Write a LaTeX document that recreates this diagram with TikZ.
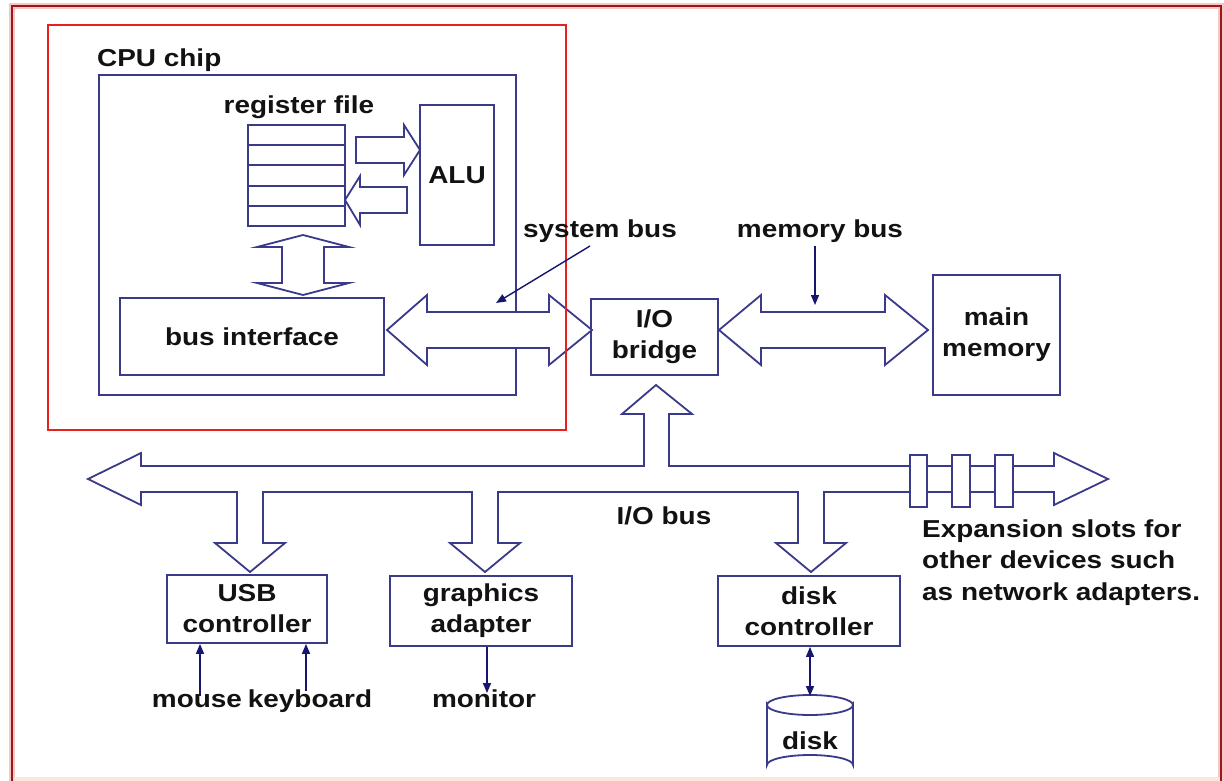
\documentclass[tikz,border=0pt]{standalone}
\usepackage{fontspec}
\newfontfamily\labfont{Liberation Sans Bold}[FakeStretch=1.14]
\usetikzlibrary{arrows.meta,calc}
\definecolor{linec}{RGB}{58,58,138}
\definecolor{tipc}{RGB}{22,22,110}
\definecolor{framec}{RGB}{160,22,22}
\definecolor{haloc}{RGB}{242,200,200}
\definecolor{hilite}{RGB}{232,32,32}
\definecolor{inkc}{RGB}{18,18,18}
\definecolor{peach}{RGB}{252,232,218}
\begin{document}
\begin{tikzpicture}[x=1pt,y=-1pt,
  txt/.style={inner sep=0pt, text=inkc, font=\labfont\fontsize{24.5}{31}\selectfont},
  box/.style={txt, draw=linec, line width=1.8pt, fill=white, align=center},
  blk/.style={draw=linec, line width=1.8pt, fill=white, line join=miter},
  ptr/.style={draw=tipc, line width=1.4pt, -{Triangle[length=10pt,width=8pt]}},
  dptr/.style={draw=tipc, line width=1.4pt, {Triangle[length=10pt,width=8pt]}-{Triangle[length=10pt,width=8pt]}}]
\useasboundingbox (0,0) rectangle (1224,781);
\clip (0,0) rectangle (1224,781);
\fill[white] (0,0) rectangle (1224,781);

% outer frame
\draw[haloc, line width=6pt] (12,6) rectangle (1221,800);
\draw[framec, line width=2.6pt] (12,6) rectangle (1221,800);
\fill[peach] (13.5,777) rectangle (1219.5,781);

% CPU chip
\node[box, fill=none, minimum width=417, minimum height=320] (cpu) at (307.5,235) {};
\node[txt, anchor=base west] (cpulbl) at (97,67) {CPU chip};

% register file
\node[txt, anchor=base] (reglbl) at (299,114) {register file};
\node[box, minimum width=97, minimum height=101] (regfile) at (296.5,175.5) {};
\foreach \k in {1,...,4}
  \draw[linec, line width=1.8pt]
    ($(regfile.north west)!\k/5!(regfile.south west)$) --
    ($(regfile.north east)!\k/5!(regfile.south east)$);

% ALU
\node[box, minimum width=74, minimum height=140] (alu) at (457,175) {ALU};

% register file <-> ALU
\draw[blk] (356,137) -- (404,137) -- (404,125) -- (420,150) -- (404,175)
  -- (404,163) -- (356,163) -- cycle;
\draw[blk] (407,187) -- (360,187) -- (360,176) -- (345,200) -- (360,225)
  -- (360,213) -- (407,213) -- cycle;

% bus interface
\node[box, minimum width=264, minimum height=77] (busif) at (252,336.5) {bus interface};

% register file <-> bus interface
\draw[blk] (303,235) -- (349,247) -- (324,247) -- (324,283) -- (349,283)
  -- (303,295) -- (257,283) -- (282,283) -- (282,247) -- (257,247) -- cycle;

% I/O bridge and main memory
\node[box, minimum width=127, minimum height=76] (bridge) at (654.5,337) {I/O\\bridge};
\node[box, minimum width=127, minimum height=120] (mem) at (996.5,335) {main\\memory};

% system bus
\draw[blk] (387,330) -- (427,295) -- (427,312) -- (549,312) -- (549,295)
  -- (592,330) -- (549,365) -- (549,348) -- (427,348) -- (427,365) -- cycle;

% memory bus
\draw[blk] (719,330) -- (761,295) -- (761,312) -- (885,312) -- (885,295)
  -- (928,330) -- (885,365) -- (885,348) -- (761,348) -- (761,365) -- cycle;

% highlight around the CPU
\draw[hilite, line width=2pt] (48,25) rectangle (566,430);

% bus labels with pointers
\node[txt, anchor=base] (sysbus) at (600,237) {system bus};
\node[txt, anchor=base] (membus) at (820,237) {memory bus};
\coordinate (sbtail) at (590,246);
\coordinate (sbtip) at (496,303);
\coordinate (mbtail) at (815,246);
\coordinate (mbtip) at (815,305);
\draw[ptr] (sbtail) -- (sbtip);
\draw[ptr] (mbtail) -- (mbtip);

% I/O devices
\node[box, minimum width=160, minimum height=68] (usb) at (247,609) {USB\\controller};
\node[box, minimum width=182, minimum height=70] (gfx) at (481,611) {graphics\\adapter};
\node[box, minimum width=182, minimum height=70] (dc) at (809,611) {disk\\controller};

% I/O bus with its branches
\draw[blk] (88,479) -- (141,453) -- (141,466) -- (644,466) -- (644,414)
  -- (622,414) -- (656,385) -- (692,414) -- (669,414) -- (669,466)
  -- (1054,466) -- (1054,453) -- (1108,479) -- (1054,505) -- (1054,492)
  -- (824,492) -- (824,543) -- (846,543) -- (811,572) -- (776,543) -- (798,543) -- (798,492)
  -- (498,492) -- (498,543) -- (520,543) -- (485,572) -- (450,543) -- (472,543) -- (472,492)
  -- (263,492) -- (263,543) -- (285,543) -- (250,572) -- (215,543) -- (237,543) -- (237,492)
  -- (141,492) -- (141,505) -- cycle;

% expansion slots
\foreach \xa/\xb [count=\i] in {910/927, 952/970, 995/1013}
  \node[box, minimum width=\xb-\xa, minimum height=52] (slot\i) at ({(\xa+\xb)/2},481) {};

\node[txt, anchor=base] (iobus) at (664,524) {I/O bus};
\node[txt, anchor=base west] (exp1) at (922,537) {Expansion slots for};
\node[txt, anchor=base west] (exp2) at (922,568) {other devices such};
\node[txt, anchor=base west] (exp3) at (922,600) {as network adapters.};

% peripherals
\node[txt, anchor=base] (mouse) at (197,707) {mouse};
\node[txt, anchor=base] (keyboard) at (310,707) {keyboard};
\node[txt, anchor=base] (monitor) at (484,707) {monitor};
\draw[ptr] ([xshift=3pt,yshift=-2pt]mouse.north) -- ([xshift=3pt]mouse.north |- usb.south);
\draw[ptr] ([xshift=-4pt,yshift=-2pt]keyboard.north) -- ([xshift=-4pt]keyboard.north |- usb.south);
\draw[ptr] ([xshift=6pt]gfx.south) -- ([xshift=6pt,yshift=-4pt]gfx.south |- monitor.north);

% disk
\draw[linec, line width=1.8pt, fill=white]
  (767,705) -- (767,765) arc[start angle=180, end angle=360, x radius=43, y radius=10]
  -- (853,705) arc[start angle=0, end angle=180, x radius=43, y radius=10] -- cycle;
\draw[linec, line width=1.8pt] (767,705) arc[start angle=180, end angle=360, x radius=43, y radius=10];
\coordinate (disktop) at (810,696);
\node[txt, anchor=base] (disk) at (810,749) {disk};
\draw[dptr] ([xshift=1pt]dc.south) -- (disktop);
\end{tikzpicture}
\end{document}
